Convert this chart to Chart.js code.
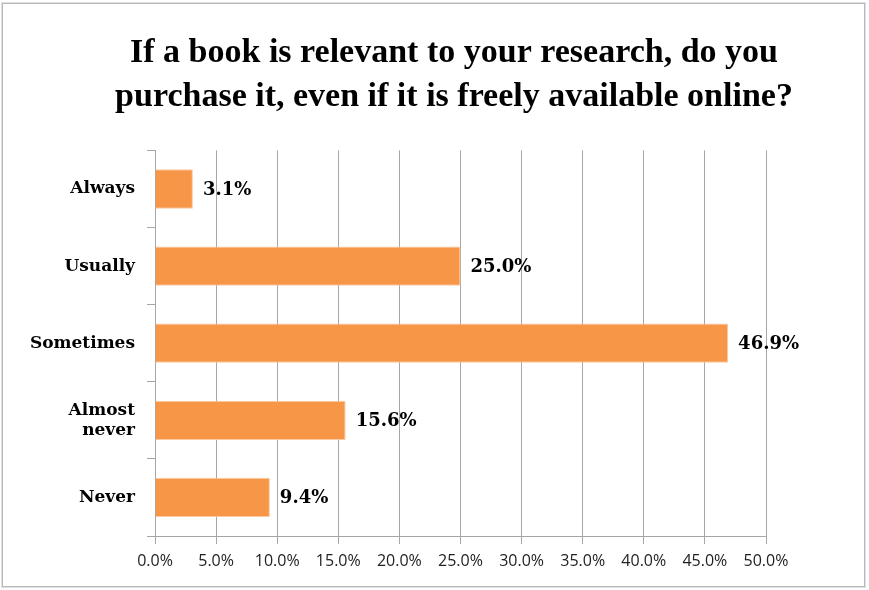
<!DOCTYPE html>
<html>
<head>
<meta charset="utf-8">
<script src="https://cdn.jsdelivr.net/npm/chart.js@4"></script>
<style>
    body { margin: 0; background: #fff; }
    #wrap { position: relative; width: 869px; height: 590px; }
    #frame {
        position: absolute; left: 2px; top: 3px; width: 861px; height: 582px;
        border: 1px solid #b8b8b8; box-shadow: 0 0 0 1px #e0e0e0; pointer-events: none;
    }
</style>
</head>
<body>
<div id="wrap">
    <canvas id="surveyChart" width="869" height="590"></canvas>
    <div id="frame"></div>
</div>
<script>
// Survey answers and their shares (%)
const categories = ['Always', 'Usually', 'Sometimes', ['Almost', 'never'], 'Never'];
const shares = [3.1, 25.0, 46.9, 15.6, 9.4];
const xTicks = [0, 5, 10, 15, 20, 25, 30, 35, 40, 45, 50];

const titleFont = '"Liberation Serif", serif';
const labelFont = '"DejaVu Serif", serif';
const gridGrey = '#a6a6a6';

// Draw value labels just right of each bar
const barLabels = {
    id: 'barLabels',
    afterDatasetsDraw(chart) {
        const ctx = chart.ctx;
        const meta = chart.getDatasetMeta(0);
        ctx.save();
        ctx.font = 'bold 18px ' + labelFont;
        ctx.fillStyle = '#000';
        ctx.textAlign = 'left';
        ctx.textBaseline = 'middle';
        meta.data.forEach(function(bar, i) {
            ctx.fillText(shares[i].toFixed(1) + '%', bar.x + 10, bar.y + 1);
        });
        ctx.restore();
    }
};

// Centre the title over the plot area instead of the whole canvas
const titleShift = {
    id: 'titleShift',
    afterLayout(chart) {
        if (chart.titleBlock) {
            chart.titleBlock.left = 40;
            chart.titleBlock.right = 868;
        }
    }
};

new Chart(document.getElementById('surveyChart'), {
    type: 'bar',
    data: {
        labels: categories,
        datasets: [{
            data: shares,
            backgroundColor: '#f79646',
            borderColor: '#fbc9a3',
            borderWidth: 1,
            categoryPercentage: 1,
            barPercentage: 0.51
        }]
    },
    options: {
        indexAxis: 'y',
        responsive: false,
        animation: false,
        layout: { padding: { left: 0, right: 103, top: 0, bottom: 0 } },
        plugins: {
            legend: { display: false },
            tooltip: { enabled: false },
            title: {
                display: true,
                text: ['If a book is relevant to your research, do you',
                       'purchase it, even if it is freely available online?'],
                color: '#000',
                font: { family: titleFont, size: 34, weight: 'bold', lineHeight: 1.3 },
                padding: { top: 31, bottom: 31 }
            }
        },
        scales: {
            x: {
                min: 0,
                max: 50,
                afterBuildTicks: function(scale) {
                    scale.ticks = xTicks.map(v => ({ value: v }));
                },
                afterFit: function(scale) { scale.height = 54; },
                grid: { color: gridGrey, lineWidth: 1, tickLength: 8 },
                border: { color: gridGrey },
                ticks: {
                    color: '#222',
                    padding: 8,
                    font: { family: '"Open Sans", "Liberation Sans", sans-serif', size: 16 },
                    callback: v => v.toFixed(1) + '%'
                }
            },
            y: {
                afterFit: function(scale) { scale.width = 155; },
                grid: { drawOnChartArea: false, color: gridGrey, tickLength: 8, offset: true },
                border: { color: gridGrey },
                ticks: {
                    color: '#000',
                    padding: 12,
                    font: { family: labelFont, size: 17, weight: 'bold', lineHeight: 1.18 }
                }
            }
        }
    },
    plugins: [barLabels, titleShift]
});
</script>
</body>
</html>
